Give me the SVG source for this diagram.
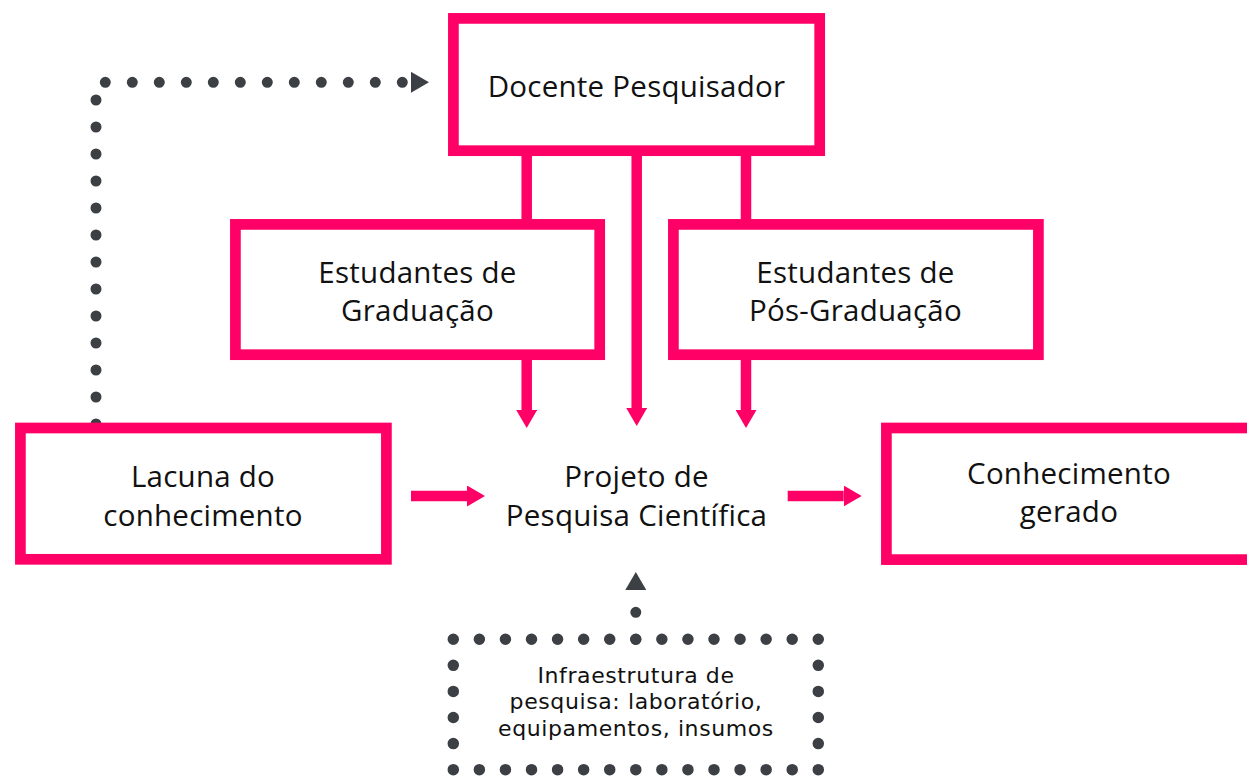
<svg xmlns="http://www.w3.org/2000/svg" width="1247" height="779" viewBox="0 0 1247 779">
<defs>
<style>
.box{fill:#fff;stroke:#ff0066;stroke-width:10.7}
.lnk{fill:none;stroke:#ff0066;stroke-width:10.5;stroke-linecap:butt}
.dot{fill:none;stroke:#3c4045;stroke-width:11;stroke-linecap:round;stroke-dasharray:0 27}
.dbox{fill:none;stroke:#3c4045;stroke-width:11.5;stroke-linecap:round;stroke-dasharray:0 26.07}
.t{font-family:"Open Sans","Noto Sans",sans-serif;font-size:29.5px;letter-spacing:0.25px;fill:#111;text-anchor:middle}
.s{font-family:"DejaVu Sans",sans-serif;font-size:22px;letter-spacing:0.6px;fill:#111;text-anchor:middle}
</style>
<marker id="ap" markerUnits="userSpaceOnUse" markerWidth="18" markerHeight="21" refX="0" refY="10.5" orient="auto" viewBox="0 0 18 21">
<path d="M0,0 L18,10.5 L0,21 Z" fill="#ff0066"/>
</marker>
<marker id="ag" markerUnits="userSpaceOnUse" markerWidth="18" markerHeight="21" refX="0" refY="10.5" orient="auto" viewBox="0 0 18 21">
<path d="M0,0 L18,10.5 L0,21 Z" fill="#3c4045"/>
</marker>
</defs>
<g id="connectors">
<path class="dot" d="M96,424 V82.3 H411" marker-end="url(#ag)"/>
<path class="dot" d="M635.8,639.3 V590" marker-end="url(#ag)"/>
<path class="lnk" d="M526.7,150 V225"/>
<path class="lnk" d="M746,150 V225"/>
<path class="lnk" d="M636.7,150 V408" marker-end="url(#ap)"/>
<path class="lnk" d="M526.7,355 V410" marker-end="url(#ap)"/>
<path class="lnk" d="M746,355 V410" marker-end="url(#ap)"/>
<path class="lnk" d="M411,496 H467" marker-end="url(#ap)"/>
<path class="lnk" d="M787.7,496 H843.7" marker-end="url(#ap)"/>
</g>
<g id="docente">
<rect class="box" x="453.4" y="18.4" width="366.3" height="132.3"/>
<text class="t" x="636.5" y="97">Docente Pesquisador</text>
</g>
<g id="graduacao">
<rect class="box" x="235.4" y="224.4" width="364.3" height="130.3"/>
<text class="t" x="417.5" y="282.5">Estudantes de</text>
<text class="t" x="417.5" y="321">Graduação</text>
</g>
<g id="posgraduacao">
<rect class="box" x="673.4" y="224.4" width="365" height="130.3"/>
<text class="t" x="855.5" y="282.5">Estudantes de</text>
<text class="t" x="855.5" y="321">Pós-Graduação</text>
</g>
<g id="lacuna">
<rect class="box" x="20.4" y="428" width="366" height="131.3"/>
<text class="t" x="203" y="487.3">Lacuna do</text>
<text class="t" x="203" y="526">conhecimento</text>
</g>
<g id="projeto">
<text class="t" x="636.5" y="486.7">Projeto de</text>
<text class="t" x="636.5" y="525.7">Pesquisa Científica</text>
</g>
<g id="conhecimento">
<rect class="box" x="886.4" y="428" width="380" height="131.6"/>
<text class="t" x="1069" y="483.5">Conhecimento</text>
<text class="t" x="1069" y="522">gerado</text>
</g>
<g id="infraestrutura">
<path class="dbox" d="M453.3,639.3 h364.98 v130.35 h-364.98 z"/>
<text class="s" x="636" y="682.7">Infraestrutura de</text>
<text class="s" x="636" y="709.3">pesquisa: laboratório,</text>
<text class="s" x="636" y="736">equipamentos, insumos</text>
</g>
</svg>
